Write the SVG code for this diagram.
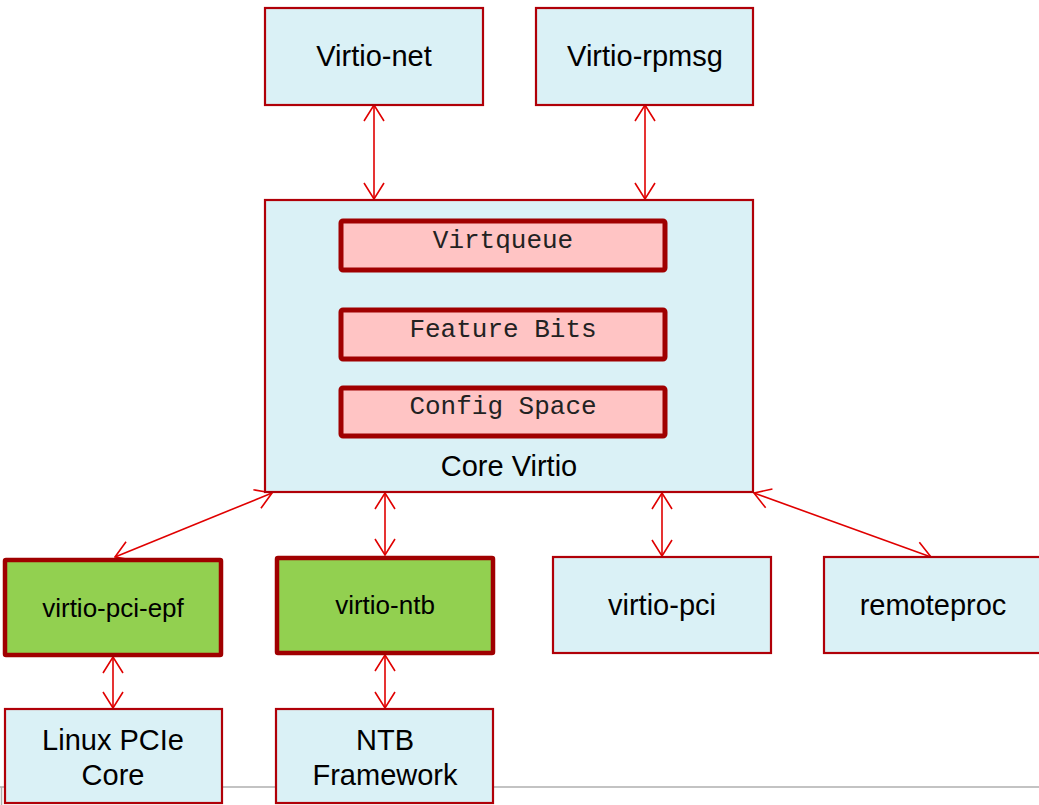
<svg xmlns="http://www.w3.org/2000/svg" width="1039" height="805" viewBox="0 0 1039 805">
<defs>
<style>
.box{fill:#daf1f6;stroke:#b00008;stroke-width:2.2}
.green{fill:#92d050;stroke:#a00000;stroke-width:4.5}
.pink{fill:#ffc4c4;stroke:#a00000;stroke-width:5}
.t{font-family:"Liberation Sans",Arial,sans-serif;font-size:29px;fill:#000;text-anchor:middle}
.t26{font-family:"Liberation Sans",Arial,sans-serif;font-size:26px;fill:#000;text-anchor:middle}
.m{font-family:"Liberation Mono","Courier New",monospace;font-size:26px;fill:#222;text-anchor:middle}
.c{stroke:#e00000;stroke-width:1.6;fill:none;marker-start:url(#ah);marker-end:url(#ah)}
</style>
<marker id="ah" viewBox="0 0 20 24" refX="19" refY="12" markerWidth="20" markerHeight="24" markerUnits="userSpaceOnUse" orient="auto-start-reverse">
<path d="M3,2 L19,12 L3,22" fill="none" stroke="#e00000" stroke-width="1.6"/>
</marker>
</defs>
<rect width="1039" height="805" fill="#fff"/>
<g id="page-border" stroke="#b0b0b0" stroke-width="1.5" fill="none">
<path d="M0,787 H1039 M1.5,787 V805"/>
</g>
<g id="connectors">
<line class="c" x1="374" y1="105" x2="374" y2="199"/>
<line class="c" x1="645" y1="105" x2="645" y2="199"/>
<line class="c" x1="272" y1="493" x2="115" y2="557"/>
<line class="c" x1="385" y1="493" x2="385" y2="555"/>
<line class="c" x1="662" y1="493" x2="662" y2="556"/>
<line class="c" x1="754" y1="493" x2="931" y2="557"/>
<line class="c" x1="113" y1="657" x2="113" y2="708"/>
<line class="c" x1="385" y1="655" x2="385" y2="708"/>
</g>
<g id="virtio-net"><rect class="box" x="265" y="8" width="218" height="97"/><text class="t" x="374" y="66">Virtio-net</text></g>
<g id="virtio-rpmsg"><rect class="box" x="536" y="8" width="217" height="97"/><text class="t" x="645" y="66">Virtio-rpmsg</text></g>
<g id="core-virtio"><rect class="box" x="265" y="200" width="488" height="292"/><text class="t" x="509" y="476">Core Virtio</text></g>
<g id="virtqueue"><rect class="pink" x="341" y="221" width="324" height="49" rx="2"/><text class="m" x="503" y="248">Virtqueue</text></g>
<g id="feature-bits"><rect class="pink" x="341" y="310" width="324" height="49" rx="2"/><text class="m" x="503" y="337">Feature Bits</text></g>
<g id="config-space"><rect class="pink" x="341" y="388" width="324" height="48" rx="2"/><text class="m" x="503" y="414">Config Space</text></g>
<g id="virtio-pci-epf"><rect class="green" x="5" y="560" width="216" height="95" rx="1"/><text class="t26" x="113" y="617">virtio-pci-epf</text></g>
<g id="virtio-ntb"><rect class="green" x="277" y="558" width="216" height="95" rx="1"/><text class="t26" x="385" y="614">virtio-ntb</text></g>
<g id="virtio-pci"><rect class="box" x="553" y="557" width="218" height="96"/><text class="t" x="662" y="615">virtio-pci</text></g>
<g id="remoteproc"><rect class="box" x="824" y="557" width="220" height="96"/><text class="t" x="933" y="615">remoteproc</text></g>
<g id="linux-pcie-core"><rect class="box" x="5" y="709" width="217" height="94"/><text class="t" x="113" y="750">Linux PCIe</text><text class="t" x="113" y="785">Core</text></g>
<g id="ntb-framework"><rect class="box" x="276" y="709" width="217" height="94"/><text class="t" x="385" y="750">NTB</text><text class="t" x="385" y="785">Framework</text></g>
</svg>
